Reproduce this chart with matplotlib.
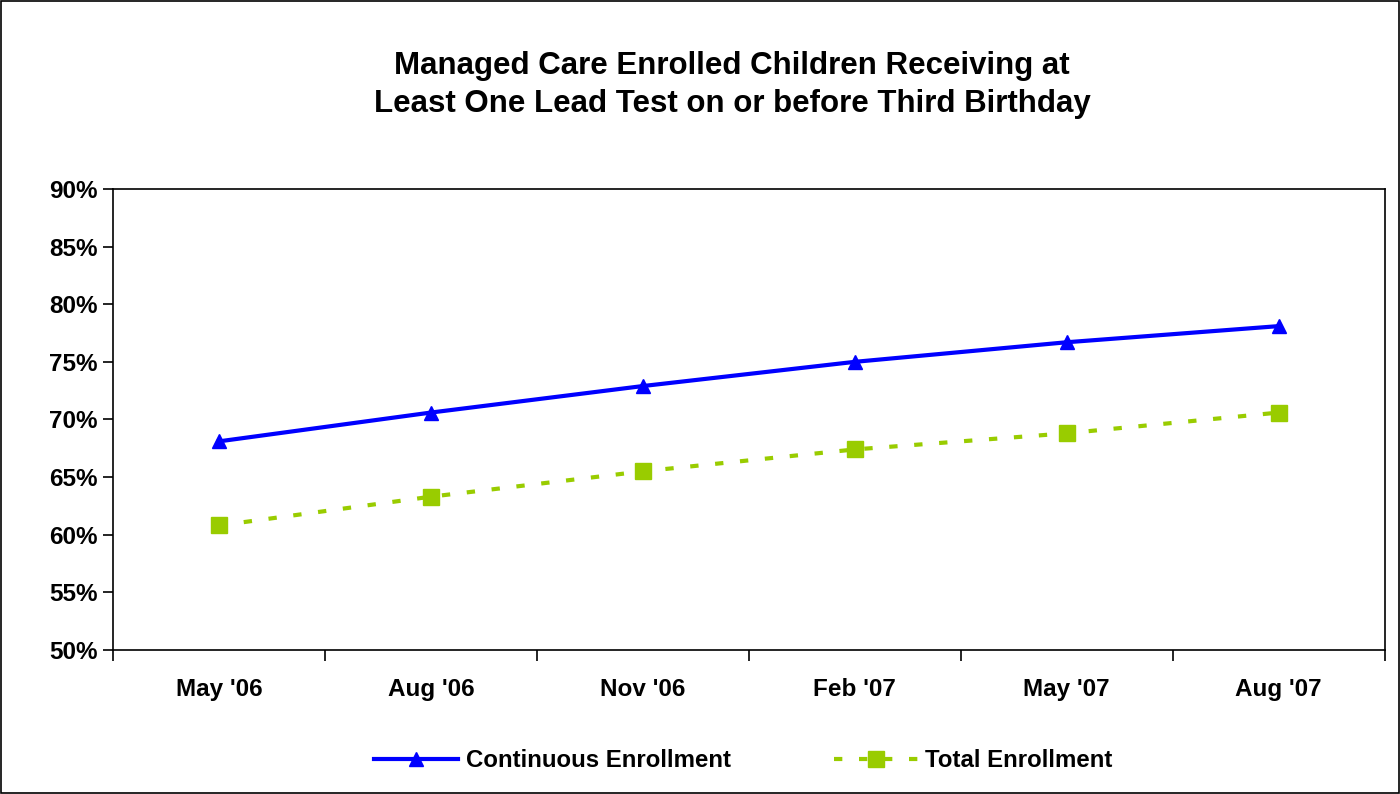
import matplotlib
matplotlib.use('Agg')
import matplotlib.pyplot as plt
from matplotlib.ticker import FixedLocator, NullFormatter

plt.rcParams['font.family'] = ['Liberation Sans', 'DejaVu Sans']

months = ["May '06", "Aug '06", "Nov '06", "Feb '07", "May '07", "Aug '07"]
continuous = [68.1, 70.6, 72.9, 75.0, 76.7, 78.1]
total = [60.8, 63.3, 65.5, 67.4, 68.8, 70.6]

fig = plt.figure(figsize=(14, 7.94), dpi=100)
ax = fig.add_axes([0.0807, 0.1814, 0.9083, 0.5806])

x = list(range(len(months)))
ax.plot(x, continuous, color='#0000FF', lw=3, marker='^', ms=10,
        label='Continuous Enrollment')
ax.plot(x, total, color='#99CC00', lw=3, ls=(0, (2, 4)), marker='s', ms=12,
        label='Total Enrollment')

ax.set_xlim(-0.5, len(months) - 0.5)
ax.set_ylim(50, 90)
ax.set_yticks(range(50, 91, 5))
ax.set_yticklabels(['{}%'.format(v) for v in range(50, 91, 5)],
                   fontsize=17.5, fontweight='bold')
ax.xaxis.set_major_locator(FixedLocator([i - 0.5 for i in range(len(months) + 1)]))
ax.xaxis.set_major_formatter(NullFormatter())
ax.xaxis.set_minor_locator(FixedLocator(x))
ax.set_xticklabels(months, minor=True, fontsize=17.5, fontweight='bold')
ax.tick_params(axis='x', which='minor', length=0, pad=20)
ax.tick_params(axis='x', which='major', length=8, width=1.2, direction='out')
ax.tick_params(axis='y', length=7, width=1.2, direction='out', pad=4)
for s in ax.spines.values():
    s.set_linewidth(1.2)

fig.text(0.523, 0.893, 'Managed Care Enrolled Children Receiving at\nLeast One Lead Test on or before Third Birthday',
         ha='center', va='center', fontsize=22.5, fontweight='bold', linespacing=1.38)

fig.legend(loc='center', bbox_to_anchor=(0.531, 0.042), ncol=2, frameon=False,
           prop={'size': 17.3, 'weight': 'bold'}, columnspacing=4.3, handlelength=3.5,
           handletextpad=0.3)

border = plt.Rectangle((0.001, 0.001), 0.998, 0.998, transform=fig.transFigure,
                       fill=False, ec='black', lw=1.2)
fig.patches.append(border)

fig.savefig('out.png', dpi=100)
